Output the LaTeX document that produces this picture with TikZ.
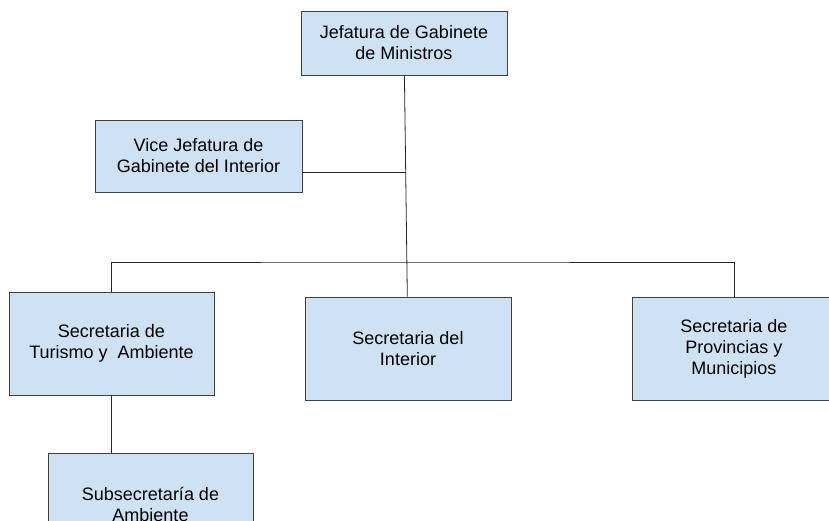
\documentclass[tikz,border=0pt]{standalone}
\usepackage{fontspec}
\setmainfont{Liberation Sans}
\usetikzlibrary{positioning}
\definecolor{cajazul}{HTML}{CFE2F3}
\definecolor{borde}{HTML}{404040}
\tikzset{
    cargo/.style={
           rectangle,
           draw=borde, line width=0.9pt,
           fill=cajazul,
           inner sep=0pt,
           align=center,
           font=\fontsize{18}{21}\selectfont,
           },
}
\tikzset{
    rama/.style={
           draw=black!85,
           line width=0.8pt,
           },
}

\begin{document}
\begin{tikzpicture}[x=1pt,y=1pt]
\useasboundingbox (0,0) rectangle (829,-520);
\node[cargo,minimum width=206pt,minimum height=64pt](jefe) at (404,-43){Jefatura de Gabinete\\de Ministros};
\node[cargo,minimum width=207pt,minimum height=72pt](vice) at (198.5,-156){Vice Jefatura de\\Gabinete del Interior};
\node[cargo,minimum width=205pt,minimum height=103pt](tur) at (111.5,-343.5){Secretaria de\\Turismo y~ Ambiente};
\node[cargo,minimum width=206pt,minimum height=103pt](int) at (408,-348.5){Secretaria del\\Interior};
\node[cargo,minimum width=202pt,minimum height=103pt,right = 121pt of int](prov){Secretaria de\\Provincias y\\Municipios};
\node[cargo,minimum width=205pt,minimum height=103pt](sub) at (150.5,-504.5){Subsecretaría de\\Ambiente};
\coordinate (vj) at (406,-172);
\coordinate (bus) at (408,-262);
\draw[rama] (jefe) -- (int);
\draw[rama] ([yshift=-16pt]vice.east) -- (vj);
\draw[rama] (tur.north) |- (bus) -| (prov.north);
\draw[rama] (tur.south) -- (tur.south |- sub.north);
\end{tikzpicture}
\end{document}
